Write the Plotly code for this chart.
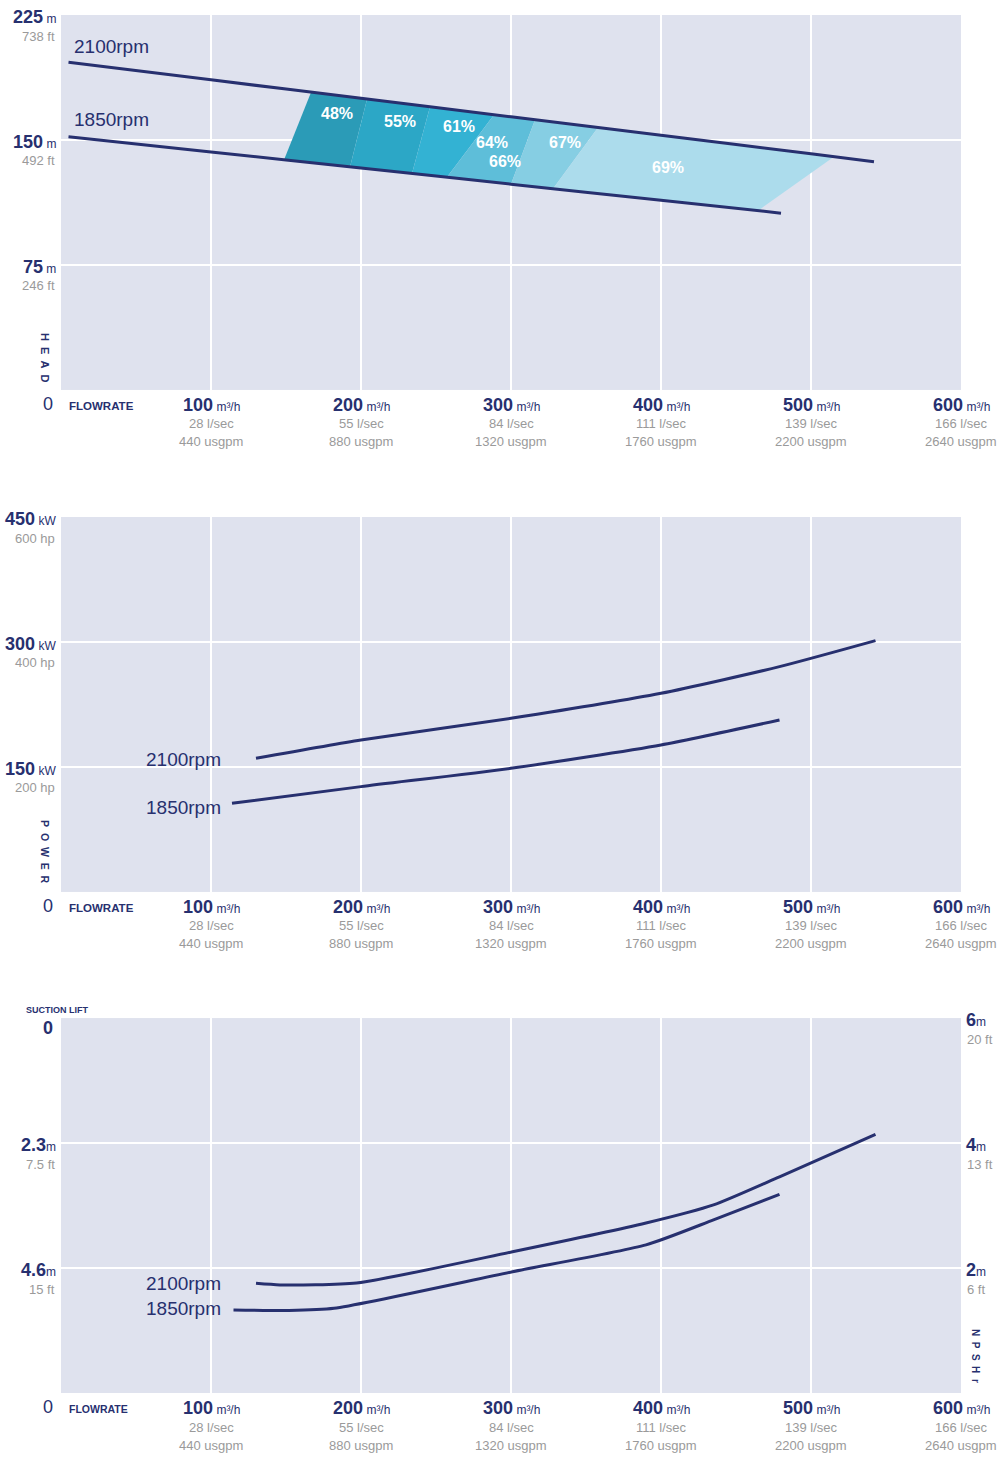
import plotly.graph_objects as go

# ---------------- data ----------------
flow_ticks = [100, 200, 300, 400, 500, 600]
flow_lsec = ["28 l/sec", "55 l/sec", "84 l/sec", "111 l/sec", "139 l/sec", "166 l/sec"]
flow_usgpm = ["440 usgpm", "880 usgpm", "1320 usgpm", "1760 usgpm", "2200 usgpm", "2640 usgpm"]

# Head chart (m)
head_ticks = [225, 150, 75]
head_ft = ["738 ft", "492 ft", "246 ft"]
head_flow_2100 = [5, 100, 200, 300, 400, 500, 542]
head_2100 = [196.6, 186.1, 175.0, 163.9, 152.8, 141.7, 137.0]
head_flow_1850 = [5, 100, 200, 300, 400, 480]
head_1850 = [152.0, 142.8, 133.2, 123.5, 113.8, 106.1]

# Efficiency zones (boundaries on the 1850rpm and 2100rpm curves)
eff_low_flow = [148.7, 192.7, 234.0, 257.3, 300.0, 328.0, 464.7]
eff_low_head = [138.1, 133.9, 129.9, 127.6, 123.5, 120.8, 107.6]
eff_high_flow = [166.7, 204.0, 246.0, 288.7, 316.0, 358.0, 515.3]
eff_high_head = [178.7, 174.5, 169.9, 165.1, 162.1, 157.5, 140.0]
eff_colors = ["#2b9bb7", "#2ca7c6", "#33b2d3", "#5ebed9", "#86cee3", "#acdcec"]
eff_labels = ["48%", "55%", "61%", "64%", "66%", "67%", "69%"]
eff_label_flow = [184.0, 226.0, 265.5, 287.3, 296.2, 336.0, 404.7]
eff_label_head = [165.8, 161.2, 158.2, 148.6, 136.9, 148.6, 133.4]

# Power chart (kW)
power_ticks = [450, 300, 150]
power_hp = ["600 hp", "400 hp", "200 hp"]
power_flow_2100 = [130, 200, 300, 400, 479, 543]
power_2100 = [160.4, 182.4, 208.4, 238.4, 270.4, 301.6]
power_flow_1850 = [114, 200, 300, 400, 479]
power_1850 = [106.4, 126.4, 148.4, 176.4, 206.4]

# NPSH chart (m)
npsh_ticks = [6, 4, 2]
npsh_ft = ["20 ft", "13 ft", "6 ft"]
lift_ticks = [0, 2.3, 4.6]
lift_labels = ["0", "2.3", "4.6"]
lift_ft = ["", "7.5 ft", "15 ft"]
npsh_flow_2100 = [130, 146, 197, 301, 390, 435, 479, 543]
npsh_2100 = [1.755, 1.73, 1.76, 2.26, 2.72, 3.01, 3.46, 4.14]
npsh_flow_1850 = [115, 152, 182, 301, 390, 435, 479]
npsh_1850 = [1.33, 1.32, 1.355, 1.94, 2.37, 2.77, 3.18]

# ---------------- style ----------------
NAVY = "#27306f"
GRAY = "#9a9a9a"
BG = "#dfe2ee"
FONT = "Liberation Sans, Arial, Helvetica, sans-serif"

fig = go.Figure()

# efficiency band
for i in range(len(eff_colors)):
    xs = [eff_low_flow[i], eff_low_flow[i + 1], eff_high_flow[i + 1], eff_high_flow[i], eff_low_flow[i]]
    ys = [eff_low_head[i], eff_low_head[i + 1], eff_high_head[i + 1], eff_high_head[i], eff_low_head[i]]
    fig.add_trace(go.Scatter(x=xs, y=ys, fill="toself", fillcolor=eff_colors[i], mode="lines",
                             line=dict(width=0, color=eff_colors[i]), xaxis="x", yaxis="y",
                             hoverinfo="skip", showlegend=False))

line_style = dict(color=NAVY, width=3, shape="spline", smoothing=0.6)
fig.add_trace(go.Scatter(x=head_flow_2100, y=head_2100, mode="lines", line=line_style, xaxis="x", yaxis="y", showlegend=False))
fig.add_trace(go.Scatter(x=head_flow_1850, y=head_1850, mode="lines", line=line_style, xaxis="x", yaxis="y", showlegend=False))
fig.add_trace(go.Scatter(x=power_flow_2100, y=power_2100, mode="lines", line=line_style, xaxis="x2", yaxis="y2", showlegend=False))
fig.add_trace(go.Scatter(x=power_flow_1850, y=power_1850, mode="lines", line=line_style, xaxis="x2", yaxis="y2", showlegend=False))
fig.add_trace(go.Scatter(x=npsh_flow_2100, y=npsh_2100, mode="lines", line=line_style, xaxis="x3", yaxis="y3", showlegend=False))
fig.add_trace(go.Scatter(x=npsh_flow_1850, y=npsh_1850, mode="lines", line=line_style, xaxis="x3", yaxis="y3", showlegend=False))

# ---------------- axes ----------------
xcommon = dict(range=[0, 600], tickvals=flow_ticks[:-1], showticklabels=False, ticks="",
               showgrid=True, gridcolor="white", gridwidth=2, zeroline=False, showline=False, fixedrange=True)
ycommon = dict(showticklabels=False, ticks="", showgrid=True, gridcolor="white", gridwidth=2,
               zeroline=False, showline=False, fixedrange=True)

dom_top = [0.7279, 1.0]
dom_mid = [0.3636, 0.6357]
dom_bot = [0.0, 0.2721]

fig.update_layout(
    xaxis=dict(xcommon, anchor="y"),
    xaxis2=dict(xcommon, anchor="y2"),
    xaxis3=dict(xcommon, anchor="y3"),
    yaxis=dict(ycommon, domain=dom_top, range=[0, 225], tickvals=[75, 150], anchor="x"),
    yaxis2=dict(ycommon, domain=dom_mid, range=[0, 450], tickvals=[150, 300], anchor="x2"),
    yaxis3=dict(ycommon, domain=dom_bot, range=[0, 6], tickvals=[2, 4], anchor="x3"),
    yaxis4=dict(overlaying="y3", range=[6.9, 0], showgrid=False, showticklabels=False, ticks="",
                zeroline=False, showline=False, anchor="x3", fixedrange=True),
)

ann = []

def add(**kw):
    ann.append(dict(showarrow=False, **kw))

NUM = dict(family=FONT, size=18, color=NAVY)
SUB = dict(family=FONT, size=13, color=GRAY)
UNIT = "<span style='font-size:12px'>{}</span>"

# x tick labels for each chart
for xr, yd in [("x", "y domain"), ("x2", "y2 domain"), ("x3", "y3 domain")]:
    for t, ls, us in zip(flow_ticks, flow_lsec, flow_usgpm):
        add(x=t, y=0, xref=xr, yref=yd, xanchor="center", yanchor="middle", yshift=-15,
            text=f"<b>{t}</b>" + UNIT.format(" m³/h"), font=NUM)
        add(x=t, y=0, xref=xr, yref=yd, xanchor="center", yanchor="middle", yshift=-34,
            text=ls, font=SUB)
        add(x=t, y=0, xref=xr, yref=yd, xanchor="center", yanchor="middle", yshift=-52,
            text=us, font=SUB)
    add(x=0, y=0, xref=xr, yref=yd, xanchor="right", yanchor="middle", xshift=-6, yshift=-14,
        text="0", font=dict(family=FONT, size=18, color=NAVY))
    add(x=0, y=0, xref=xr, yref=yd, xanchor="left", yanchor="middle", xshift=6, yshift=-16,
        text="<b>FLOWRATE</b>", font=dict(family=FONT, size=11.5 if xr != "x3" else 10.5, color=NAVY))

# left y labels
def ylabels(vals, unit, subs, yref):
    for v, s in zip(vals, subs):
        add(x=0, y=v, xref="paper", yref=yref, xanchor="right", yanchor="middle", xshift=-3, yshift=-2,
            text=f"<b>{v}</b>" + UNIT.format(unit), font=NUM)
        if s:
            add(x=0, y=v, xref="paper", yref=yref, xanchor="right", yanchor="middle", xshift=-4, yshift=-21,
                text=s, font=SUB)

ylabels(head_ticks, " m", head_ft, "y")
ylabels(power_ticks, " kW", power_hp, "y2")

for v, lab, s in zip(lift_ticks, lift_labels, lift_ft):
    if v == 0:
        add(x=0, y=v, xref="paper", yref="y4", xanchor="right", yanchor="middle", xshift=-6, yshift=-10,
            text=f"<b>{lab}</b>", font=NUM)
    else:
        add(x=0, y=v, xref="paper", yref="y4", xanchor="right", yanchor="middle", xshift=-3, yshift=-2,
            text=f"<b>{lab}</b>" + UNIT.format("m"), font=NUM)
        add(x=0, y=v, xref="paper", yref="y4", xanchor="right", yanchor="middle", xshift=-4, yshift=-21,
            text=s, font=SUB)

# right NPSH labels
for v, s in zip(npsh_ticks, npsh_ft):
    add(x=1, y=v, xref="paper", yref="y3", xanchor="left", yanchor="middle", xshift=3, yshift=-2,
        text=f"<b>{v}</b>" + UNIT.format("m"), font=NUM)
    add(x=1, y=v, xref="paper", yref="y3", xanchor="left", yanchor="middle", xshift=4, yshift=-21,
        text=s, font=SUB)

# axis titles (stacked vertical)
sp = "\u00a0\u00a0"
add(x=0, y=0.0853, xref="paper", yref="y domain", xanchor="center", yanchor="middle", xshift=-16,
    text="<b>" + sp.join("HEAD") + "</b>", textangle=90, font=dict(family=FONT, size=11, color=NAVY))
add(x=0, y=0.109, xref="paper", yref="y2 domain", xanchor="center", yanchor="middle", xshift=-16,
    text="<b>" + sp.join("POWER") + "</b>", textangle=90, font=dict(family=FONT, size=10.5, color=NAVY))
add(x=1, y=0.099, xref="paper", yref="y3 domain", xanchor="center", yanchor="middle", xshift=14,
    text="<b>" + sp.join("NPSHr") + "</b>", textangle=90, font=dict(family=FONT, size=10, color=NAVY))
add(x=0, y=1, xref="paper", yref="y3 domain", xanchor="right", yanchor="middle", xshift=29, yshift=8,
    text="<b>SUCTION LIFT</b>", font=dict(family=FONT, size=9, color=NAVY))

# rpm labels
rpm_font = dict(family=FONT, size=19, color=NAVY)
add(x=7, y=206.4, xref="x", yref="y", xanchor="left", yanchor="middle", text="2100rpm", font=rpm_font)
add(x=7, y=162.0, xref="x", yref="y", xanchor="left", yanchor="middle", text="1850rpm", font=rpm_font)
add(x=108, y=158.4, xref="x2", yref="y2", xanchor="right", yanchor="middle", text="2100rpm", font=rpm_font)
add(x=108, y=100.8, xref="x2", yref="y2", xanchor="right", yanchor="middle", text="1850rpm", font=rpm_font)
add(x=108, y=1.76, xref="x3", yref="y3", xanchor="right", yanchor="middle", text="2100rpm", font=rpm_font)
add(x=108, y=1.36, xref="x3", yref="y3", xanchor="right", yanchor="middle", text="1850rpm", font=rpm_font)

# efficiency labels
for lab, fx, hy in zip(eff_labels, eff_label_flow, eff_label_head):
    add(x=fx, y=hy, xref="x", yref="y", xanchor="center", yanchor="middle", text=f"<b>{lab}</b>",
        font=dict(family=FONT, size=16, color="white"))

fig.update_layout(
    annotations=ann,
    width=1002, height=1459,
    margin=dict(l=61, r=41, t=15, b=66, pad=0),
    paper_bgcolor="white", plot_bgcolor=BG,
    showlegend=False,
)

fig.write_html("out.html", include_plotlyjs=True, config={"displayModeBar": False},
               post_script="document.body.style.margin='0';document.body.style.overflow='hidden';")
